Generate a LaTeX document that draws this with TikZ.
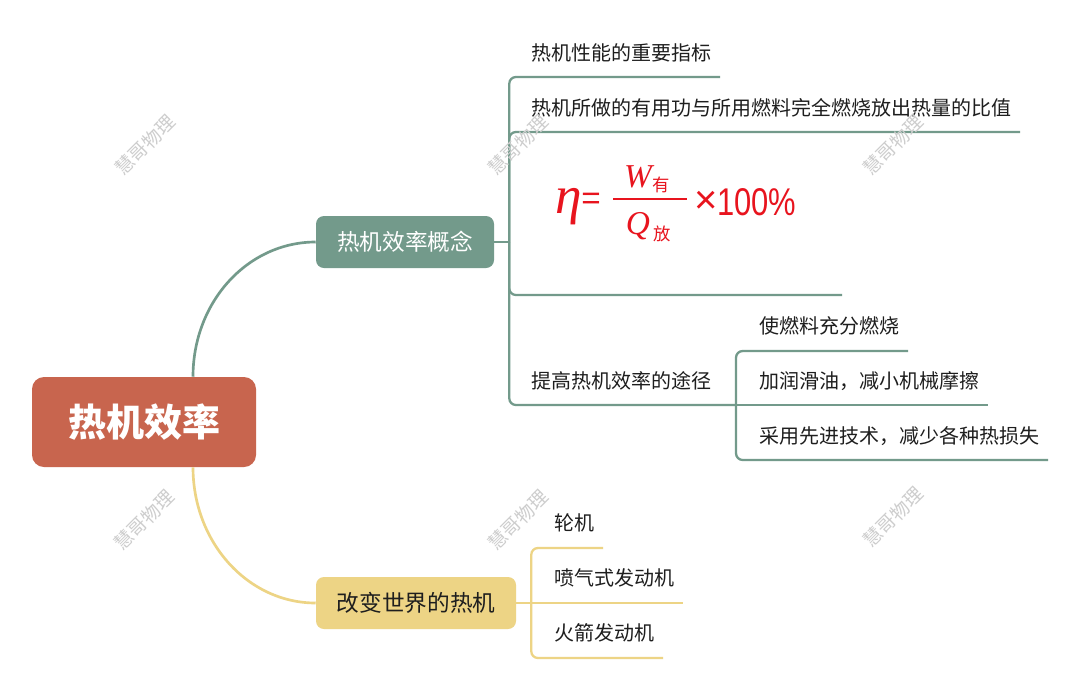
\documentclass[tikz,border=0pt]{standalone}
\usepackage{fontspec}
\setmainfont{Noto Sans CJK SC}
\newfontfamily\tnr{Liberation Serif}
\newfontfamily\arial{Liberation Sans}
\usetikzlibrary{calc}
\definecolor{rootc}{RGB}{200,101,78}
\definecolor{mmteal}{RGB}{115,154,139}
\definecolor{mmyel}{RGB}{237,212,133}
\definecolor{fred}{RGB}{232,20,30}
\definecolor{wm}{RGB}{205,205,205}
\definecolor{txt}{RGB}{30,30,30}
\begin{document}
\begin{tikzpicture}[x=0.75pt,y=-0.75pt,
  rootbox/.style={fill=rootc, rounded corners=9pt, minimum width=168pt, minimum height=67.5pt, inner sep=0pt, text=white, font=\bfseries\fontsize{28.5}{30}\selectfont},
  conceptbox/.style={fill=mmteal, rounded corners=6pt, minimum width=133.5pt, minimum height=39pt, inner sep=0pt, text=white, font=\fontsize{17}{19}\selectfont},
  worldbox/.style={fill=mmyel, rounded corners=6pt, minimum width=150pt, minimum height=39pt, inner sep=0pt, text=txt, font=\fontsize{17}{19}\selectfont},
  leaf/.style={anchor=west, inner sep=0pt, text=txt, font=\fontsize{15}{17}\selectfont},
  tline/.style={draw=mmteal, line width=1.7pt, rounded corners=5pt},
  yline/.style={draw=mmyel, line width=1.7pt, rounded corners=5pt},
  tcurve/.style={draw=mmteal, line width=2pt},
  ycurve/.style={draw=mmyel, line width=2pt},
  frm/.style={text=fred, inner sep=0pt},
  wmark/.style={text=wm, rotate=45, inner sep=0pt, font=\fontsize{14}{16}\selectfont}]
\fill[white] (0,0) rectangle (1080,689);
\useasboundingbox (0,0) rectangle (1080,689);

% main nodes
\node[rootbox] (root) at (144,422) {热机效率};
\node[conceptbox] (concept) at (405,242) {热机效率概念};
\node[worldbox] (world) at (416,603) {改变世界的热机};

\draw[tcurve] ($(root.north)+(49,0)$) .. controls +(0,-75) and +(-68,0) .. (concept.west);
\draw[ycurve] ($(root.south)+(49,0)$) .. controls +(0,75) and +(-68,0) .. (world.west);

% concept branch
\coordinate (jc) at ($(concept.east)+(15,0)$);
\draw[tline] (concept.east) -- (jc);

\node[leaf] (c1) at (531,53) {热机性能的重要指标};
\coordinate (c1e) at (720,77);
\draw[tline] (jc) |- (c1e);

\node[leaf] (c2) at (531,108) {热机所做的有用功与所用燃料完全燃烧放出热量的比值};
\coordinate (c2e) at (1020,132);
\draw[tline] (jc) |- (c2e);

% formula
\node[frm, anchor=base, font=\tnr\itshape\fontsize{40}{40}\selectfont] (eta) at (569,213) {η};
\node[frm, font=\arial\fontsize{25}{25}\selectfont] (eq) at (591,201) {=};
\node[frm, anchor=base, font=\tnr\itshape\fontsize{25}{26}\selectfont] (W) at (638,187) {W};
\node[frm, font=\fontsize{13}{13}\selectfont] (you) at (661,185) {有};
\node[frm, anchor=base, font=\tnr\itshape\fontsize{25}{26}\selectfont] (Q) at (638,234) {Q};
\node[frm, font=\fontsize{13}{13}\selectfont] (fang) at (662,234) {放};
\coordinate (fla) at (613,199);
\coordinate (flb) at (687,199);
\draw[fred, line width=1.1pt] (fla) -- (flb);
\node[frm, font=\arial\fontsize{30}{30}\selectfont] (times) at (706,202) {×};
\node[frm, anchor=base west, font=\arial\fontsize{29}{29}\selectfont] (pct) at (717,215) {\scalebox{0.8}[1]{100\%}};
\coordinate (c3e) at (842,295);
\draw[tline] (jc) |- (c3e);

\node[leaf] (c4) at (531,381) {提高热机效率的途径};
\coordinate (jc4) at (736,405);
\draw[tline] (jc) |- (jc4);

\node[leaf] (d1) at (759,326) {使燃料充分燃烧};
\coordinate (d1e) at (908,351);
\draw[tline] (jc4) |- (d1e);
\node[leaf] (d2) at (759,381) {加润滑油，减小机械摩擦};
\coordinate (d2e) at (988,405);
\draw[tline] (jc4) -- (d2e);
\node[leaf] (d3) at (759,436) {采用先进技术，减少各种热损失};
\coordinate (d3e) at (1048,460);
\draw[tline] (jc4) |- (d3e);

% world branch
\coordinate (jy) at ($(world.east)+(15,0)$);
\draw[yline] (world.east) -- (jy);
\node[leaf] (y1) at (554,523) {轮机};
\coordinate (y1e) at (603,548);
\draw[yline] (jy) |- (y1e);
\node[leaf] (y2) at (554,578) {喷气式发动机};
\coordinate (y2e) at (683,603);
\draw[yline] (jy) -- (y2e);
\node[leaf] (y3) at (554,633) {火箭发动机};
\coordinate (y3e) at (663,658);
\draw[yline] (jy) |- (y3e);

% watermarks
\node[wmark] (w1) at (145,145) {慧哥物理};
\node[wmark] (w2) at (518,145) {慧哥物理};
\node[wmark] (w3) at (893,145) {慧哥物理};
\node[wmark] (w4) at (144,520) {慧哥物理};
\node[wmark] (w5) at (518,520) {慧哥物理};
\node[wmark] (w6) at (893,517) {慧哥物理};
\end{tikzpicture}
\end{document}
